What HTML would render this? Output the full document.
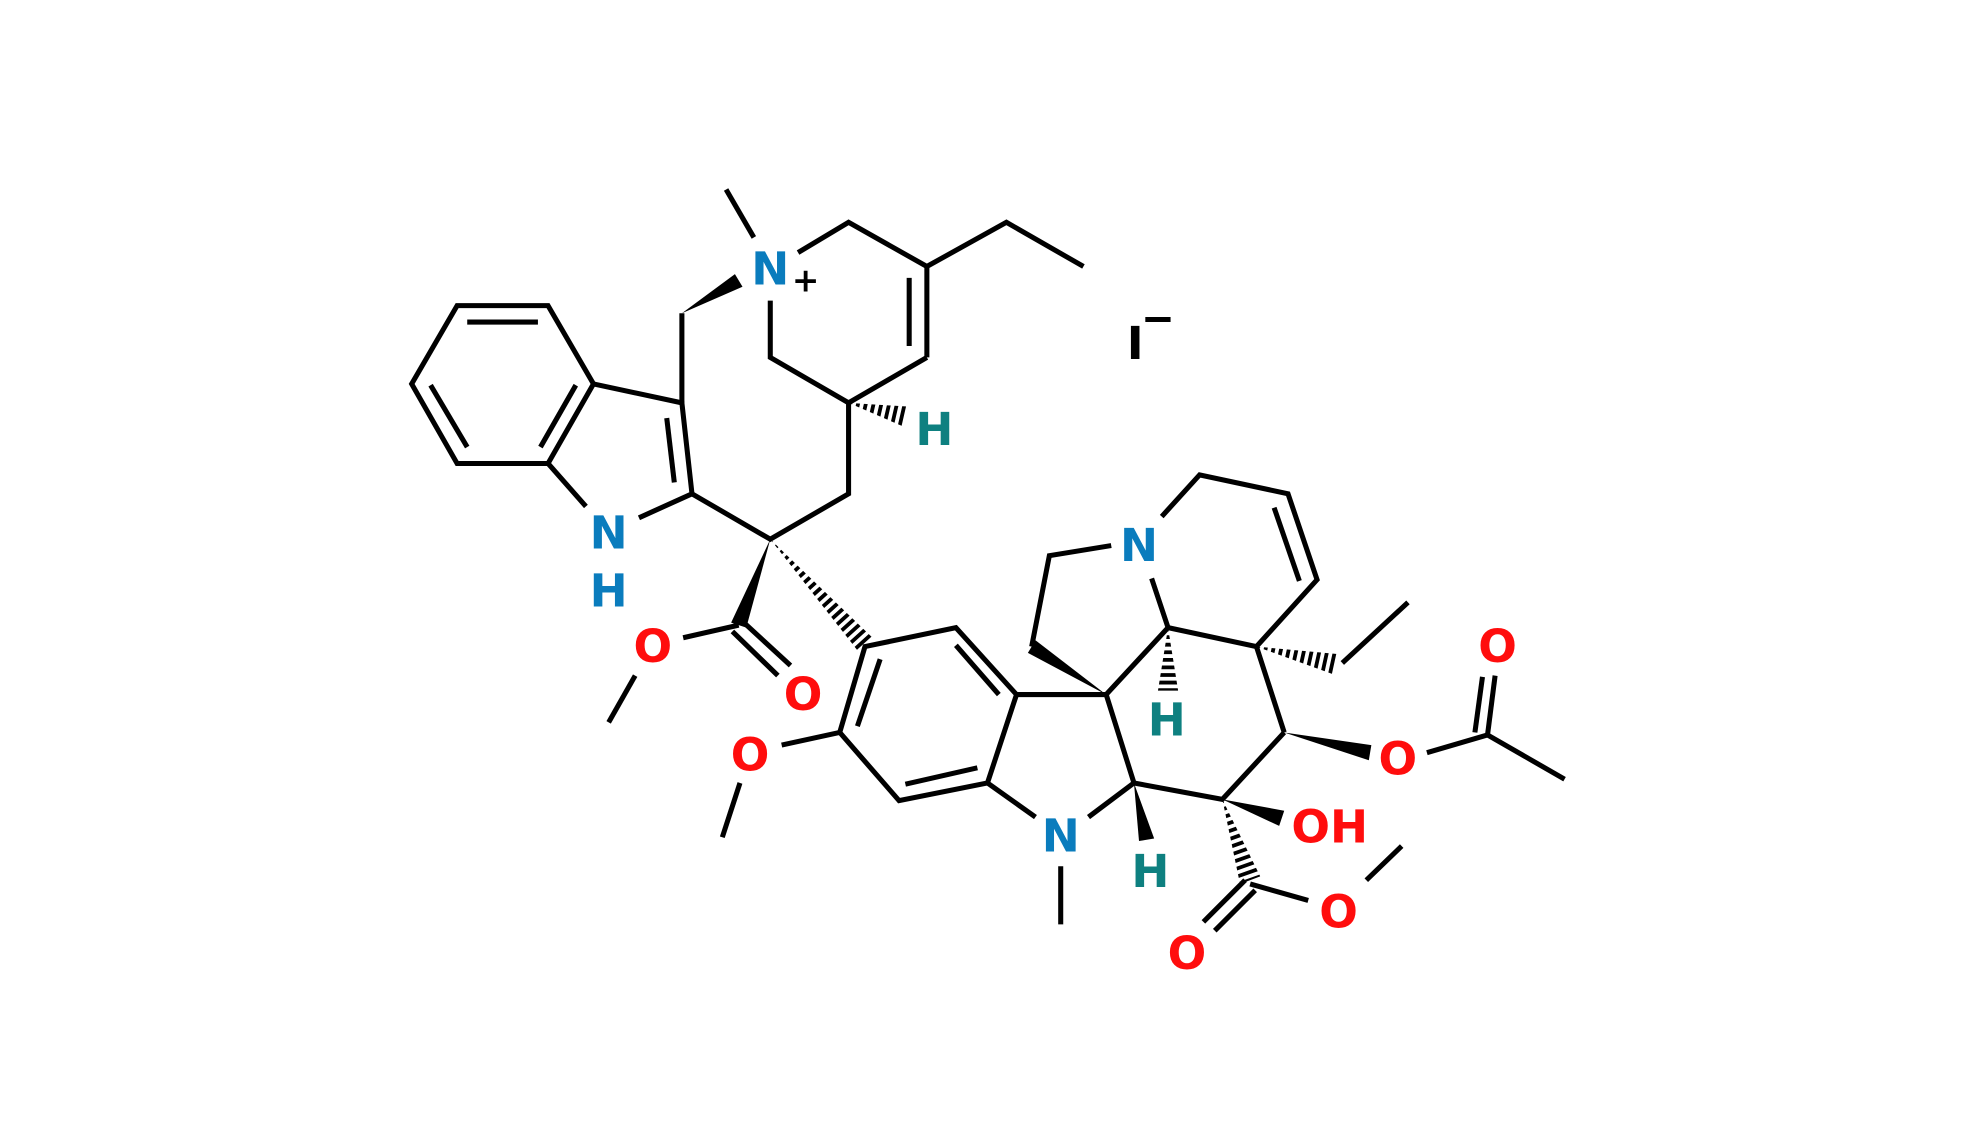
<!DOCTYPE html>
<html><head><meta charset="utf-8"><style>html,body{margin:0;padding:0;background:#fff}svg{display:block}</style></head>
<body>
<svg width="1980" height="1129" viewBox="0 0 1568 894" xmlns="http://www.w3.org/2000/svg">
<defs>
<clipPath id="h1"><polygon points="672,319 716,338 720,322"/></clipPath>
<clipPath id="h2"><polygon points="610,427 691,505 679,515"/></clipPath>
<clipPath id="h3"><polygon points="925,497 933,547 917,547"/></clipPath>
<clipPath id="h4"><polygon points="995,512 1056,534 1060,518"/></clipPath>
<clipPath id="h5"><polygon points="968,633 998,694 982,700"/></clipPath>
</defs>
<g stroke="#000" stroke-width="4" fill="none" stroke-linecap="butt">
<path d="M362,242 L434,242 L470,304 L434,367 L362,367 L326,304 Z"/>
<line x1="370" y1="255" x2="426" y2="255"/>
<line x1="341" y1="305" x2="370" y2="354"/>
<line x1="428" y1="354" x2="456" y2="305"/>
<polyline points="470,304 540,319 548,391 506,410"/>
<line x1="434" y1="367" x2="464" y2="401"/>
<line x1="528" y1="331" x2="534" y2="382"/>
<line x1="540" y1="319" x2="540" y2="248"/>
<line x1="575" y1="150" x2="597" y2="188"/>
<polyline points="632,200 672,176 734,211 797,176 858,211"/>
<line x1="734" y1="211" x2="734" y2="283"/>
<line x1="720" y1="220" x2="720" y2="274"/>
<polyline points="610,238 610,283 672,319 734,283"/>
<polyline points="672,319 672,391 610,427 548,391"/>
<line x1="585" y1="495" x2="541" y2="505"/>
<line x1="588" y1="492" x2="626" y2="527"/>
<line x1="580" y1="500" x2="616" y2="535"/>
<line x1="503" y1="535" x2="482" y2="572"/>
<path d="M685,512 L757,497 L805,550 L782,620 L712,634 L665,580 Z"/>
<line x1="697" y1="522" x2="679" y2="575"/>
<line x1="757" y1="511" x2="791" y2="550"/>
<line x1="717" y1="621" x2="774" y2="608"/>
<line x1="665" y1="580" x2="619" y2="590"/>
<line x1="586" y1="620" x2="572" y2="663"/>
<line x1="805" y1="550" x2="876" y2="550"/>
<line x1="782" y1="620" x2="820" y2="647"/>
<polyline points="862,647 898,620 876,550 925,497 912,458"/>
<line x1="840" y1="686" x2="840" y2="732"/>
<polyline points="817,512 831,440 880,432"/>
<polyline points="920,409 950,376 1020,391 1043,459 995,512 925,497"/>
<line x1="1009" y1="402" x2="1029" y2="460"/>
<line x1="995" y1="512" x2="1017" y2="580"/>
<line x1="1063" y1="525" x2="1115" y2="477"/>
<polyline points="1017,580 968,633 898,620"/>
<line x1="1130" y1="596" x2="1178" y2="582"/>
<line x1="1178" y1="582" x2="1239" y2="617"/>
<line x1="1178" y1="582" x2="1184" y2="535"/>
<line x1="1168" y1="580" x2="1174" y2="536"/>
<line x1="990" y1="700" x2="1036" y2="713"/>
<line x1="986" y1="697" x2="953" y2="730"/>
<line x1="994" y1="705" x2="962" y2="737"/>
<line x1="1082" y1="697" x2="1110" y2="670"/>
</g>
<g fill="#000">
<polygon points="540,248 588,227 582,217"/>
<polygon points="610,427 591,497 579,493"/>
<polygon points="876,550 820,507 814,517"/>
<polygon points="1017,580 1084,602 1086,590"/>
<polygon points="898,620 914,664 902,666"/>
<polygon points="968,633 1013,654 1017,642"/>
</g>
<g stroke="#000" stroke-width="18" stroke-dasharray="3 3">
<line x1="672" y1="319" x2="720" y2="330" clip-path="url(#h1)"/>
<line x1="610" y1="427" x2="686" y2="511" clip-path="url(#h2)"/>
<line x1="925" y1="497" x2="925" y2="548" clip-path="url(#h3)"/>
<line x1="995" y1="512" x2="1059" y2="526" clip-path="url(#h4)"/>
<line x1="968" y1="633" x2="991" y2="698" clip-path="url(#h5)"/>
</g>
<g font-family="'DejaVu Sans','Liberation Sans',sans-serif" font-weight="bold" font-size="36" text-anchor="middle" dominant-baseline="central">
<text x="610" y="213" fill="#0a7cbd">N</text>
<text x="638" y="222" font-size="26" fill="#000">+</text>
<text x="482" y="422" fill="#0a7cbd">N</text>
<text x="482" y="468" fill="#0a7cbd">H</text>
<text x="740" y="340" fill="#0e8080">H</text>
<text x="517" y="512" fill="#ff0d0d">O</text>
<text x="636" y="550" fill="#ff0d0d">O</text>
<text x="594" y="598" fill="#ff0d0d">O</text>
<text x="840" y="662" fill="#0a7cbd">N</text>
<text x="902" y="432" fill="#0a7cbd">N</text>
<text x="924" y="570" fill="#0e8080">H</text>
<text x="911" y="690" fill="#0e8080">H</text>
<text x="1107" y="601" fill="#ff0d0d">O</text>
<text x="1186" y="512" fill="#ff0d0d">O</text>
<text x="1053" y="655" fill="#ff0d0d">OH</text>
<text x="940" y="755" fill="#ff0d0d">O</text>
<text x="1060" y="722" fill="#ff0d0d">O</text>
<text x="899" y="272" fill="#000">I</text>
</g>
<line x1="907" y1="253" x2="927" y2="253" stroke="#000" stroke-width="4"/>
</svg>
</body></html>
